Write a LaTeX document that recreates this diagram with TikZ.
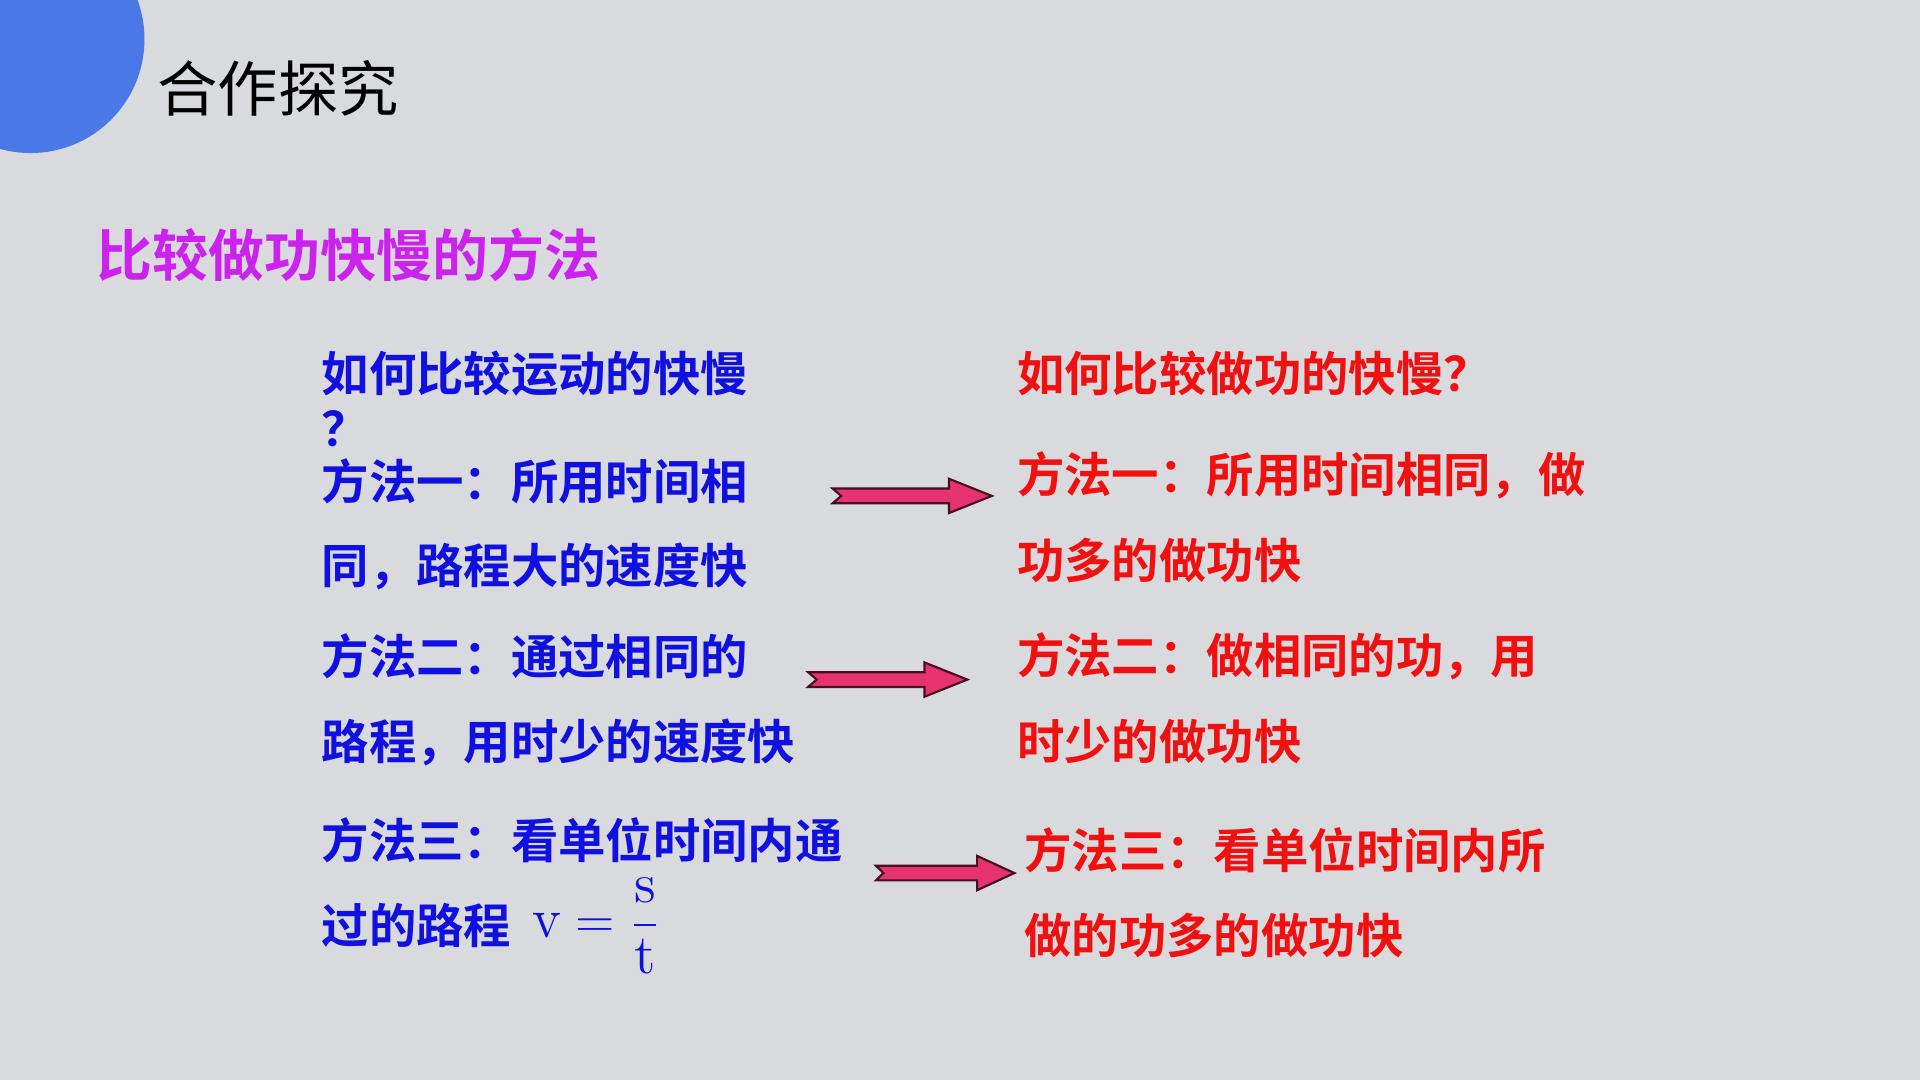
\documentclass[tikz,border=0pt]{standalone}
\usepackage{amsmath}
\usepackage{fontspec}
\newfontfamily\cjk{Noto Sans CJK SC}
\newfontfamily\cjkb{Noto Sans CJK SC Bold}
\usetikzlibrary{positioning}
\definecolor{bg}{HTML}{D9DADE}
\definecolor{dot}{HTML}{4A78E6}
\definecolor{ttl}{HTML}{CC22EE}
\definecolor{bluetxt}{HTML}{1010E0}
\definecolor{redtxt}{HTML}{F01010}
\definecolor{pinkarr}{HTML}{E6336F}

\begin{document}
\begin{tikzpicture}[x=0.01cm,y=-0.01cm]
        \tikzstyle{blue line}=[anchor=west, inner sep=0pt, text=bluetxt, font=\cjkb\fontsize{11pt}{11pt}\selectfont]
        \tikzstyle{red line}=[anchor=west, inner sep=0pt, text=redtxt, font=\cjkb\fontsize{11pt}{11pt}\selectfont]
        \tikzset{fat arrow/.pic={
            \draw[fill=pinkarr, draw=black!70!pinkarr, line width=0.5pt]
              (0,-6) -- (-95,-6) -- (-88,0) -- (-95,6) -- (0,6) -- (0,14) -- (35,0) -- (0,-14) -- cycle;}}

        \fill[bg] (0,0) rectangle (1568,882);
        \useasboundingbox (0,0) rectangle (1568,882);
        \fill[dot] (25,32) circle (93);

        \node[anchor=west, inner sep=0pt, font=\cjk\fontsize{14pt}{14pt}\selectfont] (head) at (128,72) {合作探究};
        \node[anchor=west, inner sep=0pt, text=ttl, font=\cjkb\fontsize{13pt}{13pt}\selectfont] (topic) at (78,208) {比较做功快慢的方法};

        % motion side
        \node[blue line] (q1) at (262,305) {如何比较运动的快慢};
        \node[blue line] (q1b) at (262,350) {？};
        \node[blue line] (m1a) at (262,393) {方法一：所用时间相};
        \node[blue line] (m1b) at (262,463) {同，路程大的速度快};
        \node[blue line] (m2a) at (262,536) {方法二：通过相同的};
        \node[blue line] (m2b) at (262,606) {路程，用时少的速度快};
        \node[blue line] (m3a) at (262,686) {方法三：看单位时间内通};
        \node[blue line] (m3b) at (262,756) {过的路程};
        \node[anchor=west, inner sep=0pt, text=bluetxt, font=\fontsize{13pt}{13pt}\selectfont] (vst) at (434,756) {$\mathrm{v}=\dfrac{\mathrm{s}}{\mathrm{t}}$};

        % work side
        \node[red line] (q2) at (830,305) {如何比较做功的快慢？};
        \node[red line] (w1a) at (830,388) {方法一：所用时间相同，做};
        \node[red line] (w1b) at (830,458) {功多的做功快};
        \node[red line] (w2a) at (830,536) {方法二：做相同的功，用};
        \node[red line] (w2b) at (830,606) {时少的做功快};
        \node[red line] (w3a) at (836,694) {方法三：看单位时间内所};
        \node[red line] (w3b) at (836,764) {做的功多的做功快};

        \pic at (775,405) {fat arrow};
        \pic at (755,555) {fat arrow};
        \pic[xscale=0.87] at (798,713) {fat arrow};
\end{tikzpicture}
\end{document}
